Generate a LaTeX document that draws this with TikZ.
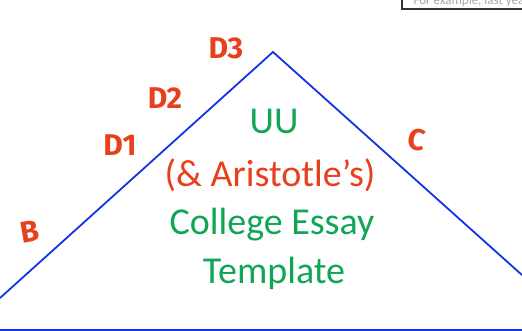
\documentclass[tikz,border=0pt]{standalone}
\usepackage{fontspec}
\setmainfont{Carlito}
\newfontfamily\handfont{Fira Sans}
\definecolor{lineblue}{HTML}{1433E6}
\definecolor{markred}{HTML}{E8401C}
\definecolor{titlegreen}{HTML}{10A655}
\tikzset{
  side/.style={lineblue,line width=1.8pt},
  mark label/.style={markred,font=\handfont\bfseries\fontsize{30}{30}\selectfont},
  title green/.style={titlegreen,font=\fontsize{38}{38}\selectfont},
  title red/.style={markred,font=\fontsize{38}{38}\selectfont}
}
\begin{document}
\begin{tikzpicture}[x=1pt,y=-1pt]
   \useasboundingbox (0,0) rectangle (522,331);
   \begin{scope}
      \clip (0,0) rectangle (522,331);
      \draw [line width=1.5pt,black!80] (402,-10) rectangle (540,9);
      \node[anchor=west,gray!70,font=\fontsize{13}{13}\selectfont] (hint) at (410,1) {For example, last year};
   \end{scope}
   \coordinate (left) at (0,298);
   \coordinate (apex) at (273,52);
   \coordinate (right) at (522,275);
   \coordinate (baseL) at (0,330);
   \coordinate (baseR) at (522,330);
   \draw [side] (left) -- (apex) -- (right);
   \draw [side] (baseL) -- (baseR);
   \node[title green] (uu) at (274,121) {UU};
   \node[title red] (aristotle) at (270,175) {(\& Aristotle’s)};
   \node[title green] (college) at (272,225) {College Essay};
   \node[title green] (template) at (274,273) {Template};
   \node[mark label] (d3) at (226,48) {D3};
   \node[mark label] (d2) at (165,98) {D2};
   \node[mark label] (d1) at (120,145) {D1};
   \node[mark label,rotate=10] (b) at (30,232) {B};
   \node[mark label,rotate=-10] (c) at (417,140) {C};
\end{tikzpicture}
\end{document}
